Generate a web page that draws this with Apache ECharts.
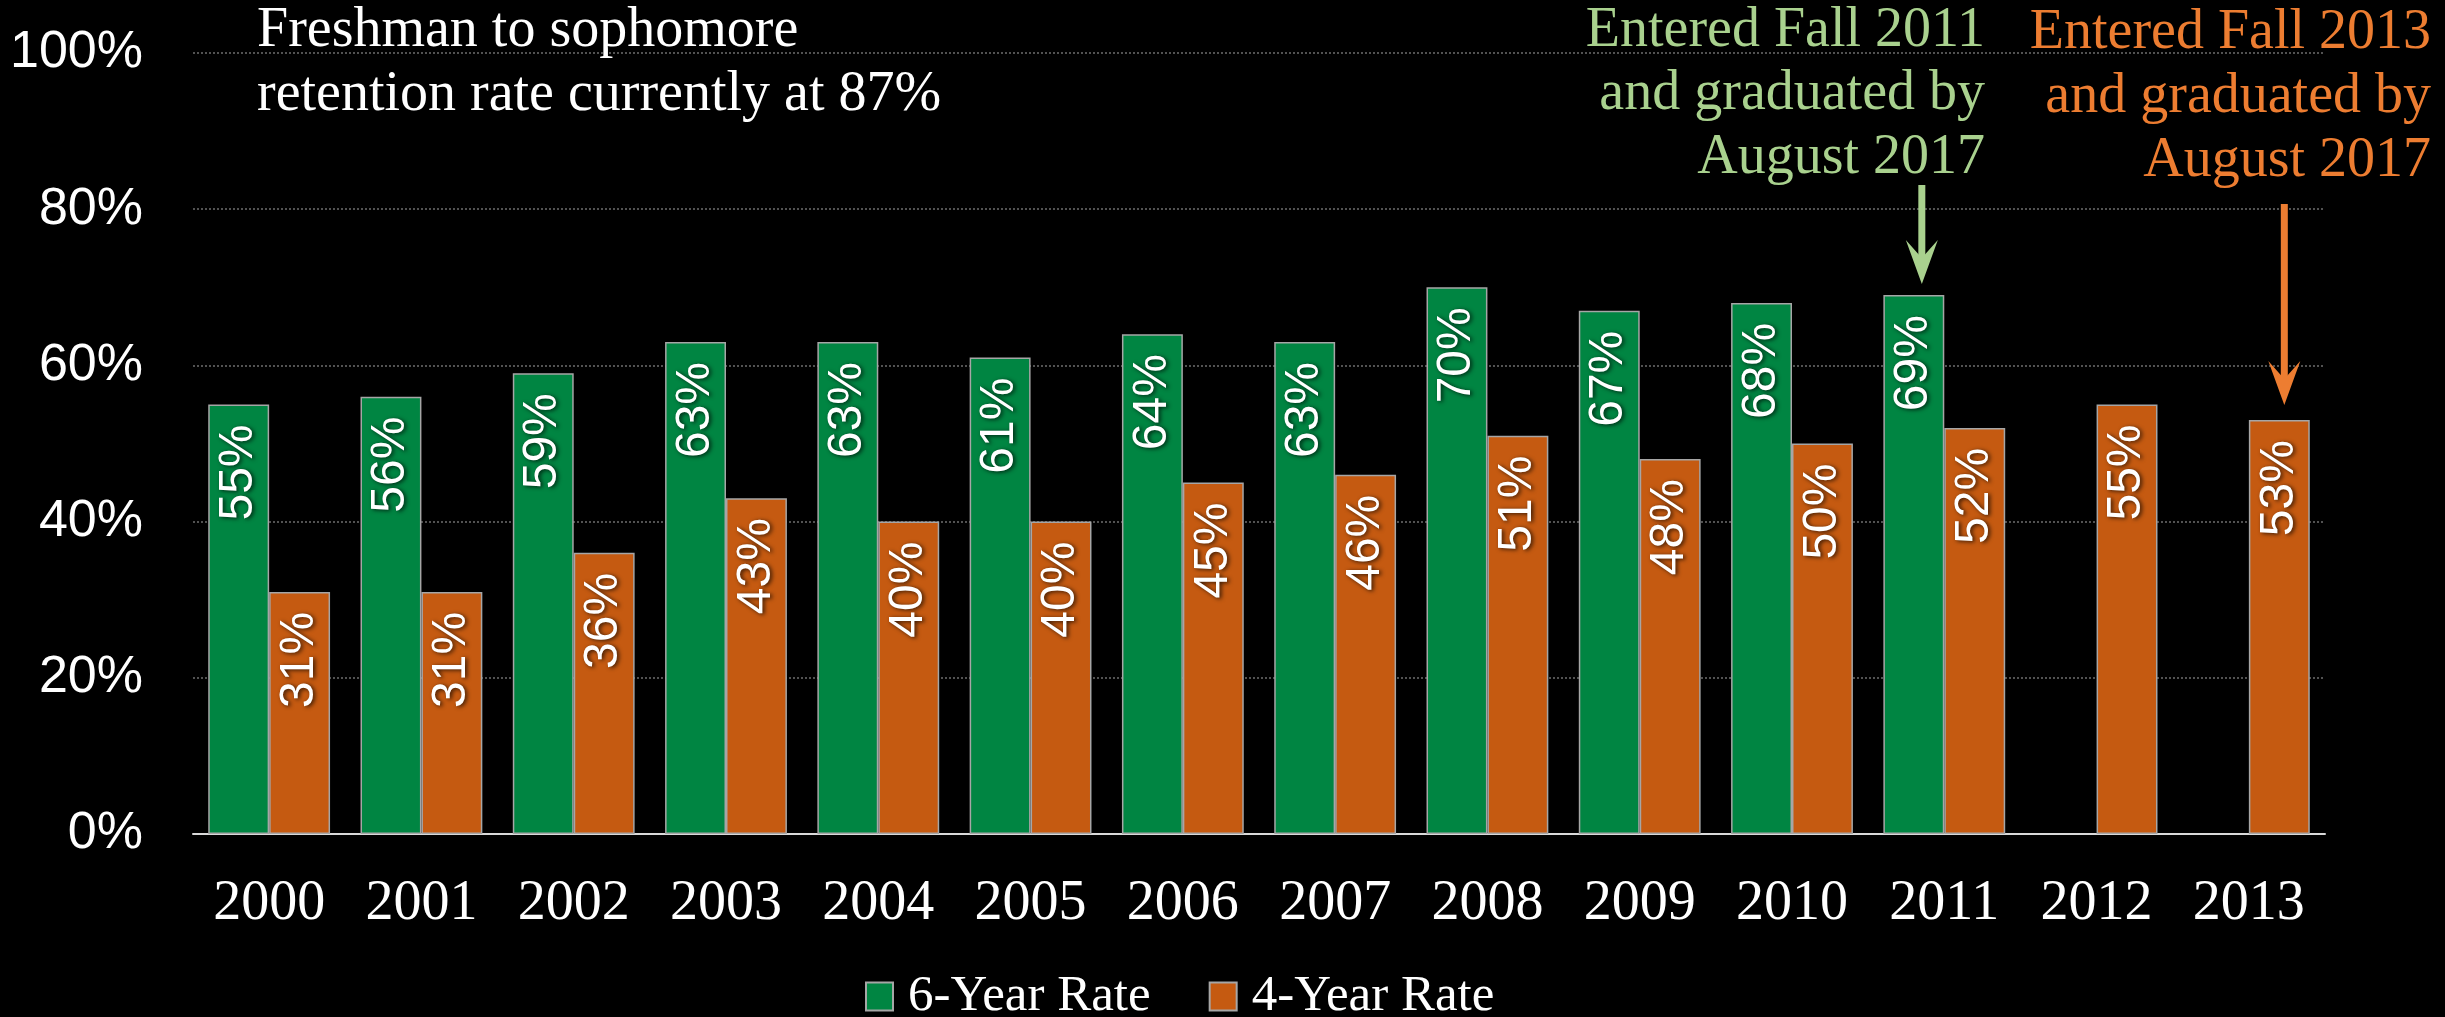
<!DOCTYPE html>
<html>
<head>
<meta charset="utf-8">
<script src="https://cdn.jsdelivr.net/npm/echarts@6/dist/echarts.min.js"></script>
<style>
html,body{margin:0;padding:0;background:#000;}
#chart{width:2445px;height:1017px;}
</style>
</head>
<body>
<div id="chart"></div>
<script>
const years = ['2000','2001','2002','2003','2004','2005','2006','2007','2008','2009','2010','2011','2012','2013'];
const sixYearRate = [55,56,59,63,63,61,64,63,70,67,68,69,null,null];
const fourYearRate = [31,31,36,43,40,40,45,46,51,48,50,52,55,53];
const yTicks = [0,20,40,60,80,100];
const noteRetention = ['Freshman to sophomore','retention rate currently at 87%'];
const note2011 = ['Entered Fall 2011','and graduated by','August 2017'];
const note2013 = ['Entered Fall 2013','and graduated by','August 2017'];

const GREEN = '#008542';
const ORANGE = '#C55A11';
const SERIF = '"Liberation Serif", "Times New Roman", serif';
const SANS = '"Liberation Sans", Arial, sans-serif';

const chart = echarts.init(document.getElementById('chart'));

const barLabel = {
  show: true,
  position: 'insideTop',
  rotate: 90,
  align: 'right',
  verticalAlign: 'middle',
  distance: 20,
  color: '#fff',
  fontFamily: SANS,
  fontSize: 48,
  textShadowColor: 'rgba(0,0,0,0.75)',
  textShadowBlur: 4,
  textShadowOffsetX: 2,
  textShadowOffsetY: 1,
  formatter: p => p.value == null ? '' : p.value + '%'
};

chart.setOption({
  backgroundColor: '#000',
  animation: false,
  grid: { left: 193, right: 120, top: 53, bottom: 183 },
  xAxis: {
    type: 'category',
    data: years,
    axisTick: { show: false },
    axisLine: { lineStyle: { color: '#D9D9D9', width: 2 } },
    axisLabel: { color: '#fff', fontFamily: SERIF, fontSize: 56, margin: 42 }
  },
  yAxis: {
    type: 'value',
    min: yTicks[0],
    max: yTicks[yTicks.length - 1],
    interval: yTicks[1] - yTicks[0],
    axisLine: { show: false },
    axisTick: { show: false },
    axisLabel: { color: '#fff', fontFamily: SANS, fontSize: 52, margin: 50, formatter: '{value}%' },
    splitLine: { lineStyle: { color: '#6E6E6E', width: 1.5, type: [2, 2] } }
  },
  legend: {
    left: 860,
    top: 966,
    itemWidth: 27,
    itemHeight: 28,
    itemGap: 58,
    icon: 'rect',
    textStyle: { color: '#fff', fontFamily: SERIF, fontSize: 51, padding: [0, 0, 0, 10] },
    data: ['6-Year Rate', '4-Year Rate']
  },
  series: [
    {
      name: '6-Year Rate', type: 'bar', data: sixYearRate,
      barGap: '0%', barCategoryGap: '20%',
      itemStyle: { color: GREEN, borderColor: '#A6A6A6', borderWidth: 1.5 },
      label: barLabel
    },
    {
      name: '4-Year Rate', type: 'bar', data: fourYearRate,
      barGap: '0%', barCategoryGap: '20%',
      itemStyle: { color: ORANGE, borderColor: '#A6A6A6', borderWidth: 1.5 },
      label: barLabel
    }
  ]
});

function barLayout(seriesIndex, idx) {
  const l = chart.getModel().getSeriesByIndex(seriesIndex).getData().getItemLayout(idx);
  return { cx: l.x + l.width / 2, top: Math.min(l.y, l.y + l.height) };
}

function arrow(x, yTop, yTip, color) {
  const headH = 44, headW = 16;
  return {
    type: 'group', z: 100,
    children: [
      { type: 'line', z: 100, shape: { x1: x, y1: yTop, x2: x, y2: yTip - 22 }, style: { stroke: color, lineWidth: 7 } },
      { type: 'polygon', z: 100, shape: { points: [[x, yTip], [x - headW, yTip - headH], [x, yTip - 26], [x + headW, yTip - headH]] }, style: { fill: color } }
    ]
  };
}

// y given as the text baseline; the text is placed by its top edge
function textLines(lines, x, baseline0, lineGap, color, align) {
  return lines.map((t, i) => ({
    type: 'text', z: 100,
    x: x, y: baseline0 - 44 + i * lineGap,
    style: { text: t, fill: color, font: '56px ' + SERIF, align: align, verticalAlign: 'top' }
  }));
}

const g11 = barLayout(0, years.indexOf('2011'));
const o13 = barLayout(1, years.indexOf('2013'));

chart.setOption({
  graphic: [].concat(
    textLines(noteRetention, 257, 47, 64, '#fff', 'left'),
    textLines(note2011, 1985, 47, 63.5, '#A9D18E', 'right'),
    textLines(note2013, 2431, 49, 64, '#ED7D31', 'right'),
    [arrow(g11.cx + 8, 185, g11.top - 11, '#A9D18E'),
     arrow(o13.cx + 5, 204, o13.top - 15, '#ED7D31')]
  )
});
</script>
</body>
</html>
